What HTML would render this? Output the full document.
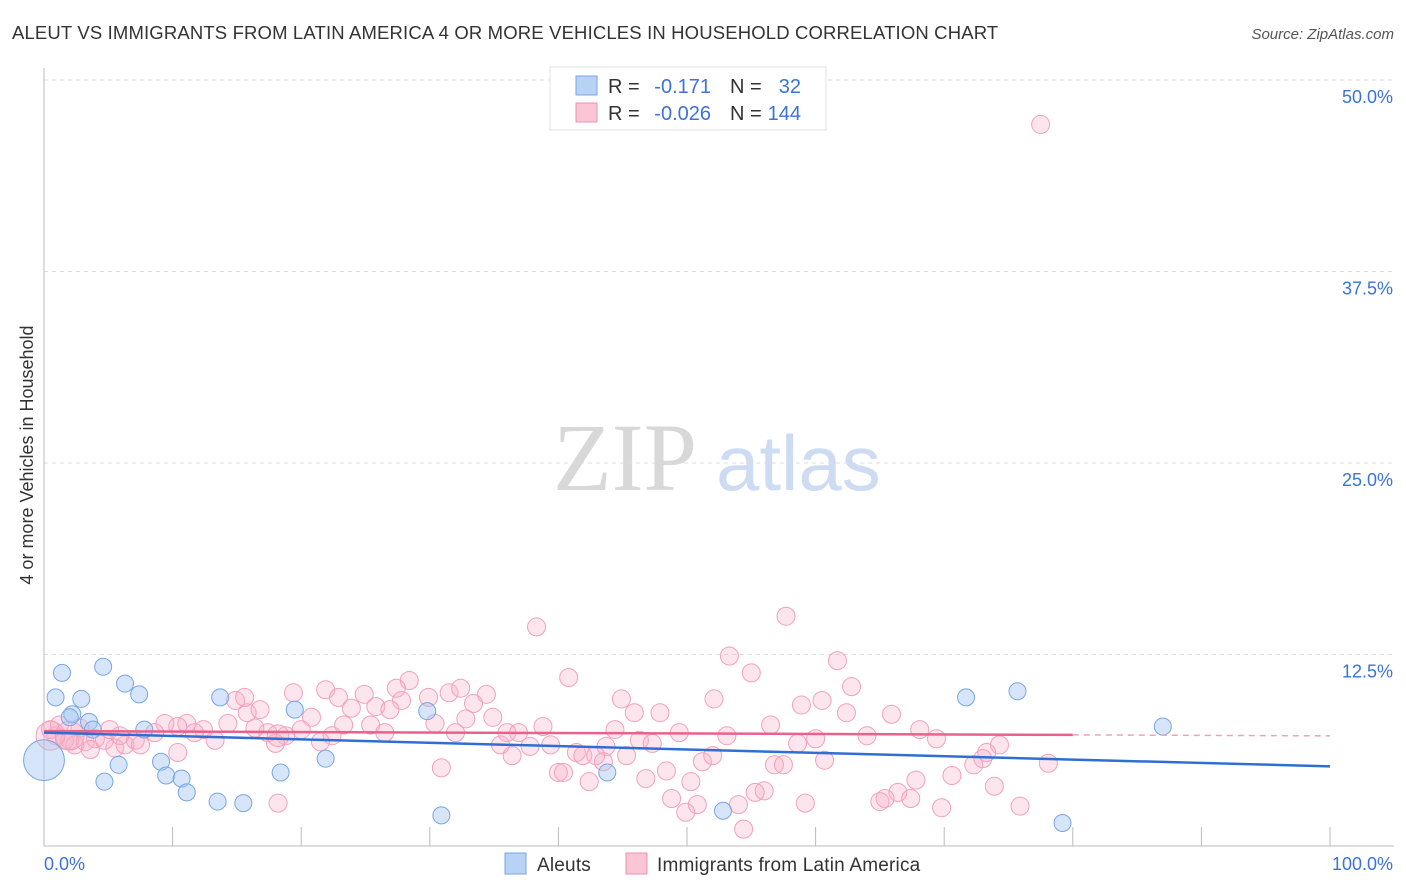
<!DOCTYPE html>
<html><head><meta charset="utf-8">
<style>
body{margin:0;background:#fff;font-family:"Liberation Sans",sans-serif;}
svg{display:block}
</style></head>
<body>
<svg id="chart" width="1406" height="892" xmlns="http://www.w3.org/2000/svg">
<text x="12" y="39" font-size="18.5" letter-spacing="0.15" fill="#333">ALEUT VS IMMIGRANTS FROM LATIN AMERICA 4 OR MORE VEHICLES IN HOUSEHOLD CORRELATION CHART</text>
<text x="1394" y="39" font-size="15" fill="#555" font-style="italic" text-anchor="end">Source: ZipAtlas.com</text>
<g>
<text x="553" y="490" font-size="96" fill="#d8d8d8" font-family="Liberation Serif, serif">ZIP</text>
<text x="716" y="490" font-size="78" fill="#cddcf2">atlas</text>
</g>
<g id="grid"></g>
<g id="axes"></g>
<g id="pts"></g>
<g id="lines"></g>
<text transform="translate(33,455) rotate(-90)" font-size="18" fill="#333" text-anchor="middle">4 or more Vehicles in Household</text>
<g>
<rect x="550" y="67" width="276" height="63" fill="#fff" stroke="#e0e0e0"/>
<rect x="576" y="76" width="21" height="19" fill="#b8d2f5" stroke="#7aa6e6"/>
<rect x="576" y="103" width="21" height="19" fill="#fac6d5" stroke="#f08fb0"/>
<text x="608" y="93" font-size="20" fill="#333">R =</text>
<text x="711" y="93" font-size="20" fill="#3b73d8" text-anchor="end">-0.171</text>
<text x="730" y="93" font-size="20" fill="#333">N =</text>
<text x="801" y="93" font-size="20" fill="#3b73d8" text-anchor="end">32</text>
<text x="608" y="120" font-size="20" fill="#333">R =</text>
<text x="711" y="120" font-size="20" fill="#3b73d8" text-anchor="end">-0.026</text>
<text x="730" y="120" font-size="20" fill="#333">N =</text>
<text x="801" y="120" font-size="20" fill="#3b73d8" text-anchor="end">144</text>
</g>
<g>
<rect x="505" y="853" width="21" height="21" fill="#b8d2f5" stroke="#7aa6e6"/>
<text x="537" y="871" font-size="19" letter-spacing="0.2" fill="#333">Aleuts</text>
<rect x="626" y="853" width="21" height="21" fill="#fac6d5" stroke="#f08fb0"/>
<text x="657" y="871" font-size="19" letter-spacing="0.2" fill="#333">Immigrants from Latin America</text>
</g>
</svg>
<script>
const yTicks=[12.5,25,37.5,50];
const yTickLabels=["12.5%","25.0%","37.5%","50.0%"];
const xTickLabels=["0.0%","100.0%"];
const blueX=[1.4,0.9,2.9,4.6,6.3,7.4,2.2,2.0,3.5,3.8,7.8,4.7,5.8,9.1,9.5,10.7,11.1,13.5,15.5,13.7,19.5,18.4,21.9,29.8,30.9,43.8,52.8,71.7,75.7,87.0,79.2,0];
const blueY=[11.3,9.7,9.6,11.7,10.6,9.9,8.6,8.4,8.1,7.6,7.6,4.2,5.3,5.5,4.6,4.4,3.5,2.9,2.8,9.7,8.9,4.8,5.7,8.8,2.0,4.8,2.3,9.7,10.1,7.8,1.5,5.6];
const blueSize=[1,1,1,1,1,1,1,1,1,1,1,1,1,1,1,1,1,1,1,1,1,1,1,1,1,1,1,1,1,1,1,2.4];
const pinkX=[77.5,38.3,19.4,21.9,22.9,24.9,28.4,27.4,31.5,32.4,34.4,29.9,25.8,27.8,23.9,26.9,33.4,34.9,32.8,30.4,38.8,36.0,36.9,37.8,39.4,35.5,36.4,30.9,32.0,25.4,26.5,23.3,20.8,22.4,21.5,20.0,18.8,18.0,17.4,16.4,15.8,16.8,14.9,15.6,14.3,13.3,12.4,11.7,11.1,10.4,9.4,8.6,10.4,18.2,40.0,40.8,
0.9,1.6,2.4,3.2,4.0,4.7,5.5,6.3,7.1,5.1,2.8,1.2,5.9,7.5,3.6,0.5,2.0,
44.9,45.9,47.9,44.4,46.3,47.3,49.4,52.1,53.1,53.3,55.0,56.5,57.7,58.9,60.5,61.7,62.8,62.4,58.6,60.0,60.7,64.0,65.9,68.1,69.4,74.3,73.3,73.0,72.3,70.6,67.8,66.4,65.4,65.0,67.4,69.8,73.9,75.9,78.1,59.2,56.8,57.5,56.0,55.3,54.0,54.4,50.8,49.9,48.8,50.3,48.4,46.8,51.2,52.0,45.3,43.7,42.4,41.4,41.9,42.9,43.5,40.4];
const pinkY=[47.1,14.3,10.0,10.2,9.7,9.9,10.8,10.3,10.0,10.3,9.9,9.7,9.1,9.5,9.0,8.9,9.3,8.4,8.3,8.0,7.8,7.4,7.4,6.5,6.6,6.6,5.9,5.1,7.4,7.9,7.4,7.9,8.4,7.2,6.8,7.6,7.2,6.7,7.4,7.7,8.7,8.9,9.5,9.7,8.0,6.9,7.6,7.4,8.0,7.8,8.0,7.4,6.1,2.8,4.8,11.0,
7.2,6.9,6.6,6.8,7.0,6.9,6.4,6.6,6.9,7.6,7.7,7.9,7.2,6.6,6.3,7.6,6.9,
9.6,8.7,8.7,7.6,6.9,6.7,7.4,9.6,7.2,12.4,11.3,7.9,15.0,9.2,9.5,12.1,10.4,8.7,6.7,7.0,5.6,7.2,8.6,7.6,7.0,6.6,6.1,5.7,5.3,4.6,4.3,3.5,3.1,2.9,3.1,2.5,3.9,2.6,5.4,2.8,5.3,5.3,3.6,3.5,2.7,1.1,2.7,2.2,3.1,4.2,4.9,4.4,5.5,5.9,5.9,6.5,4.2,6.1,5.9,5.9,5.5,4.8];
const pinkBig=[[0.5,1.6],[2.0,1.6],[18.2,1.2]];
const pinkTrend=[7.5,-0.0031];
const blueTrend=[7.4,-0.022];
const NS="http://www.w3.org/2000/svg";
const X0=44,X1=1330,Y0=846,PXPER=766/50;
function sx(v){return X0+(X1-X0)*v/100;}
function sy(v){return Y0-v*PXPER;}
function mk(tag,attrs,parent){const e=document.createElementNS(NS,tag);for(const k in attrs)e.setAttribute(k,attrs[k]);parent.appendChild(e);return e;}
const grid=document.getElementById('grid'),axes=document.getElementById('axes'),pts=document.getElementById('pts'),lines=document.getElementById('lines');
yTicks.forEach((t,i)=>{
 const l=mk('line',{x1:X0,x2:1394,y1:sy(t),y2:sy(t),stroke:'#dcdcdc','stroke-dasharray':'4,4'},grid);
 
 
 const tx=mk('text',{x:1393,y:sy(t)+23,'font-size':18,fill:'#3b73d8','text-anchor':'end'},axes);
 tx.textContent=yTickLabels[i];
 
 
});
mk('line',{x1:X0,x2:X0,y1:68,y2:Y0,stroke:'#bbb'},axes);
mk('line',{x1:X0,x2:1394,y1:Y0,y2:Y0,stroke:'#bbb'},axes);
for(let i=1;i<=10;i++){mk('line',{x1:sx(i*10),x2:sx(i*10),y1:827,y2:Y0,stroke:'#bbb'},axes);}
const xl0=mk('text',{x:44,y:870,'font-size':18,fill:'#3b73d8'},axes);xl0.textContent=xTickLabels[0];


const xl1=mk('text',{x:1393,y:870,'font-size':18,fill:'#3b73d8','text-anchor':'end'},axes);xl1.textContent=xTickLabels[1];


pinkX.forEach((x,i)=>{
 const c=mk('circle',{cx:sx(x),cy:sy(pinkY[i]),r:9,fill:'rgba(248,175,198,0.32)',stroke:'#f2a0bc','stroke-width':1},pts);
 
 
});
pinkBig.forEach(p=>{
 const c=mk('circle',{cx:sx(p[0]),cy:sy(7.2),r:9*p[1],fill:'rgba(248,175,198,0.32)',stroke:'#f2a0bc','stroke-width':1},pts);
 
 
});
blueX.forEach((x,i)=>{
 const c=mk('circle',{cx:sx(x),cy:sy(blueY[i]),r:8.5*blueSize[i],fill:'rgba(165,198,242,0.45)',stroke:'#78a6e4','stroke-width':1},pts);
 
 
});
const pl=mk('line',{x1:sx(0),y1:sy(pinkTrend[0]),x2:sx(80),y2:sy(pinkTrend[0]+pinkTrend[1]*80),stroke:'#e8628c','stroke-width':2.5},lines);


const pd=mk('line',{x1:sx(80),y1:sy(pinkTrend[0]+pinkTrend[1]*80),x2:sx(100),y2:sy(pinkTrend[0]+pinkTrend[1]*100),stroke:'#f0a0b8','stroke-width':1.5,'stroke-dasharray':'6,5'},lines);


const bl=mk('line',{x1:sx(0),y1:sy(blueTrend[0]),x2:sx(100),y2:sy(blueTrend[0]+blueTrend[1]*100),stroke:'#2f6fd4','stroke-width':2.5},lines);


</script>
</body></html>
